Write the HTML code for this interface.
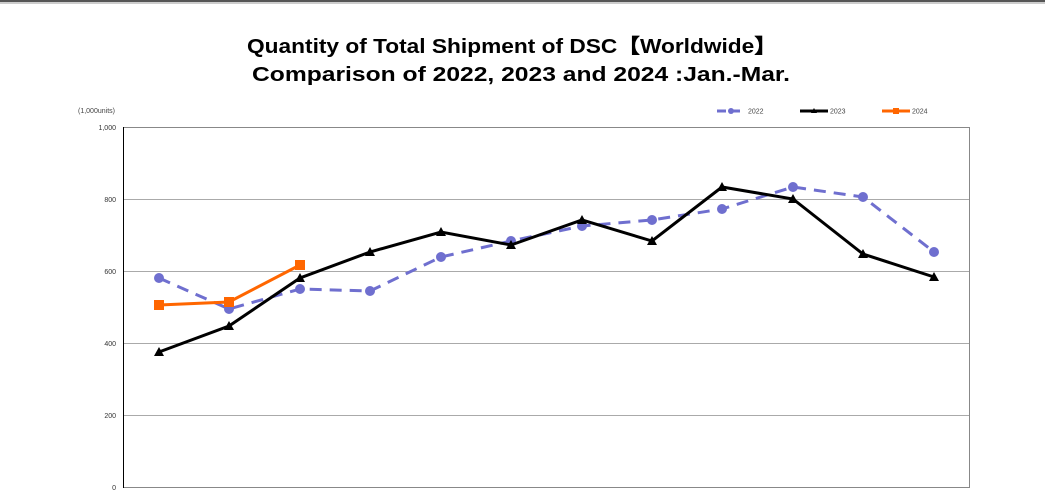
<!DOCTYPE html>
<html><head><meta charset="utf-8"><style>
html,body{margin:0;padding:0;background:#fff;}
svg{display:block;}
</style></head><body>
<svg width="1045" height="503" viewBox="0 0 1045 503" xmlns="http://www.w3.org/2000/svg" font-family="Liberation Sans, sans-serif">
<rect x="0" y="0" width="1045" height="503" fill="#fff"/>
<rect x="0" y="0" width="1045" height="2" fill="#555"/>
<rect x="0" y="2" width="1045" height="2" fill="#ccc"/>
<text x="512" y="53" text-anchor="middle" font-size="20" font-weight="bold" textLength="530" lengthAdjust="spacingAndGlyphs">Quantity of Total Shipment of DSC【Worldwide】</text>
<text x="521" y="81" text-anchor="middle" font-size="20" font-weight="bold" textLength="538" lengthAdjust="spacingAndGlyphs">Comparison of 2022, 2023 and 2024 :Jan.-Mar.</text>
<text x="78" y="113" font-size="7" fill="#444">(1,000units)</text>
<g stroke="#aaa" stroke-width="1">
<line x1="123" y1="127.5" x2="969" y2="127.5" stroke="#888"/>
<line x1="123" y1="199.5" x2="969" y2="199.5"/>
<line x1="123" y1="271.5" x2="969" y2="271.5"/>
<line x1="123" y1="343.5" x2="969" y2="343.5"/>
<line x1="123" y1="415.5" x2="969" y2="415.5"/>
<line x1="123" y1="487.5" x2="969" y2="487.5" stroke="#888"/>
<line x1="969.5" y1="127" x2="969.5" y2="488" stroke="#888"/>
</g>
<line x1="123.5" y1="127" x2="123.5" y2="488" stroke="#000" stroke-width="1"/>
<g font-size="7" fill="#333" text-anchor="end">
<text x="116" y="130">1,000</text><text x="116" y="202">800</text><text x="116" y="274">600</text><text x="116" y="346">400</text><text x="116" y="418">200</text><text x="116" y="490">0</text>
</g>
<!-- legend -->
<line x1="717" y1="111" x2="745" y2="111" stroke="#6f6fcf" stroke-width="3" stroke-dasharray="9,5"/>
<circle cx="731" cy="111" r="3" fill="#6f6fcf"/>
<text x="748" y="113.5" font-size="7" fill="#444">2022</text>
<line x1="800" y1="111" x2="828" y2="111" stroke="#000" stroke-width="3"/>
<polygon points="814,108 817,113 811,113" fill="#000"/>
<text x="830" y="113.5" font-size="7" fill="#444">2023</text>
<line x1="882" y1="111" x2="910" y2="111" stroke="#ff6600" stroke-width="3"/>
<rect x="893" y="108" width="6" height="6" fill="#ff6600"/>
<text x="912" y="113.5" font-size="7" fill="#444">2024</text>
<!-- 2022 -->
<polyline fill="none" stroke="#6f6fcf" stroke-width="3" stroke-dasharray="12,8" points="159,278 229,309 300,289 370,291 441,257 511,241 582,226 652,220 722,209 793,187 863,197 934,252"/>
<g fill="#6f6fcf">
<circle cx="159" cy="278" r="5"/><circle cx="229" cy="309" r="5"/><circle cx="300" cy="289" r="5"/><circle cx="370" cy="291" r="5"/><circle cx="441" cy="257" r="5"/><circle cx="511" cy="241" r="5"/><circle cx="582" cy="226" r="5"/><circle cx="652" cy="220" r="5"/><circle cx="722" cy="209" r="5"/><circle cx="793" cy="187" r="5"/><circle cx="863" cy="197" r="5"/><circle cx="934" cy="252" r="5"/>
</g>
<!-- 2023 -->
<polyline fill="none" stroke="#000" stroke-width="3" points="159,352 229,326 300,278 370,252 441,232 511,245 582,220 652,241 722,187 793,199 863,254 934,277"/>
<g fill="#000">
<polygon points="159,347 164,356 154,356"/><polygon points="229,321 234,330 224,330"/><polygon points="300,273 305,282 295,282"/><polygon points="370,247 375,256 365,256"/><polygon points="441,227 446,236 436,236"/><polygon points="511,240 516,249 506,249"/><polygon points="582,215 587,224 577,224"/><polygon points="652,236 657,245 647,245"/><polygon points="722,182 727,191 717,191"/><polygon points="793,194 798,203 788,203"/><polygon points="863,249 868,258 858,258"/><polygon points="934,272 939,281 929,281"/>
</g>
<!-- 2024 -->
<polyline fill="none" stroke="#ff6600" stroke-width="3" points="159,305 229,302 300,265"/>
<g fill="#ff6600">
<rect x="154" y="300" width="10" height="10"/><rect x="224" y="297" width="10" height="10"/><rect x="295" y="260" width="10" height="10"/>
</g>
</svg>
</body></html>
